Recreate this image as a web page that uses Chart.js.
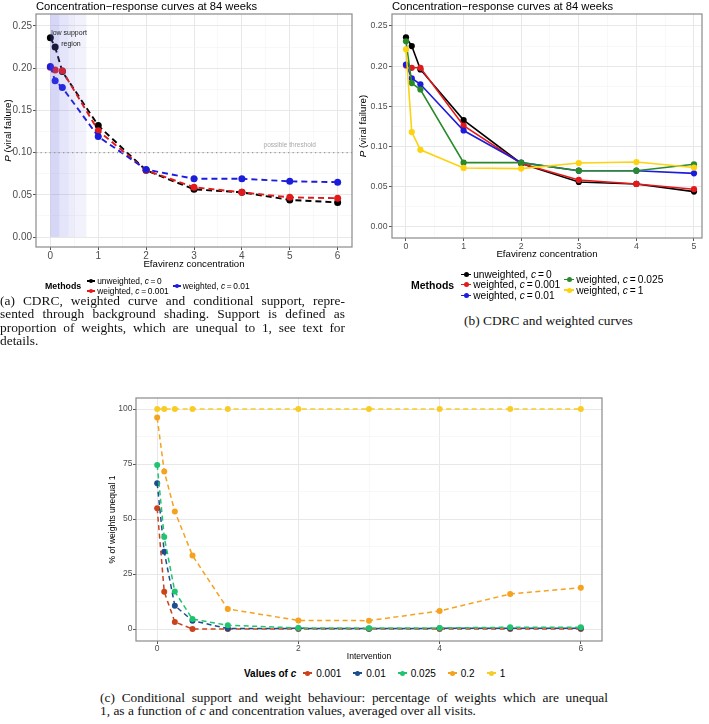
<!DOCTYPE html>
<html>
<head>
<meta charset="utf-8">
<title>Concentration-response curves</title>
<script src="https://cdn.jsdelivr.net/npm/chart.js@4.4.1/dist/chart.umd.min.js"></script>
<style>
  html, body { margin: 0; padding: 0; background: #fff; }
  #page { position: relative; width: 709px; height: 724px; overflow: hidden; font-family: 'Liberation Sans', Arial, sans-serif; color: #000; }
  canvas { position: absolute; }
  .title { position: absolute; font-size: 11.2px; line-height: 12px; white-space: nowrap; }
  .legend { position: absolute; display: flex; align-items: center; white-space: nowrap; }
  .legend .head { font-weight: bold; }
  .legend .col { display: flex; flex-direction: column; }
  .legend .item { display: flex; align-items: center; }
  .key { position: relative; display: inline-block; flex: none; }
  .key::before { content: ''; position: absolute; left: 0; right: 0; top: 50%; height: 1.4px; margin-top: -0.7px; background: var(--c); }
  .key::after { content: ''; position: absolute; left: 50%; top: 50%; width: var(--d); height: var(--d); margin-left: calc(var(--d) / -2); margin-top: calc(var(--d) / -2); border-radius: 50%; background: var(--c); }
  .caption { position: absolute; font-family: 'Liberation Serif', 'DejaVu Serif', serif; font-size: 13.4px; line-height: 13.4px; color: #111; white-space: nowrap; }
  .caption .just { text-align: justify; text-align-last: justify; }
</style>
</head>
<body>
<div id="page">
  <canvas id="chartA" width="356" height="278" style="left:0;top:0"></canvas>
  <canvas id="chartB" width="354" height="263" style="left:355px;top:0"></canvas>
  <canvas id="chartC" width="501" height="280" style="left:105px;top:385px"></canvas>

  <div class="title" style="left:36px;top:0">Concentration&minus;response curves at 84 weeks</div>
  <div class="title" style="left:392px;top:0">Concentration&minus;response curves at 84 weeks</div>

  <div class="legend" id="legendA" style="left:45px;top:276px"></div>
  <div class="legend" id="legendB" style="left:411px;top:269px"></div>
  <div class="legend" id="legendC" style="left:244px;top:667px"></div>

  <div class="caption" style="left:0;top:294px;width:345px">
    <div class="just">(a) CDRC, weighted curve and conditional support, repre-</div>
    <div class="just">sented through background shading. Support is defined as</div>
    <div class="just">proportion of weights, which are unequal to 1, see text for</div>
    <div>details.</div>
  </div>
  <div class="caption" style="left:464px;top:314px">(b) CDRC and weighted curves</div>
  <div class="caption" style="left:100px;top:691px;width:508px">
    <div class="just">(c) Conditional support and weight behaviour: percentage of weights which are unequal</div>
    <div>1, as a function of <i>c</i> and concentration values, averaged over all visits.</div>
  </div>
</div>

<script>
'use strict';

const FONT = "'Liberation Sans', Arial, sans-serif";

// ---- panel (a): CDRC + weighted curves, with support shading
const concA = [0, 0.1, 0.25, 1, 2, 3, 4, 5, 6];
const unweightedA = [0.236, 0.225, 0.196, 0.132, 0.079, 0.0565, 0.053, 0.044, 0.041];
const weighted001A = [0.201, 0.198, 0.197, 0.126, 0.079, 0.059, 0.053, 0.047, 0.046];
const weighted01A = [0.202, 0.185, 0.177, 0.119, 0.080, 0.069, 0.069, 0.066, 0.065];
const supportEdges = [0, 0.19, 0.38, 0.5, 0.75];
const supportShade = [0.26, 0.17, 0.12, 0.08]; // alpha of each band
const threshold = 0.10;
const xTicksA = [0, 1, 2, 3, 4, 5, 6];
const yTicksA = [0, 0.05, 0.10, 0.15, 0.20, 0.25];

// ---- panel (b): CDRC and weighted curves
const concB = [0, 0.1, 0.25, 1, 2, 3, 4, 5];
const unweightedB = [0.236, 0.225, 0.196, 0.133, 0.079, 0.056, 0.0535, 0.044];
const weighted001B = [0.201, 0.198, 0.198, 0.126, 0.079, 0.0585, 0.0535, 0.047];
const weighted01B = [0.202, 0.185, 0.1775, 0.120, 0.080, 0.070, 0.070, 0.0667];
const weighted025B = [0.231, 0.179, 0.171, 0.080, 0.080, 0.070, 0.070, 0.078];
const weighted1B = [0.221, 0.118, 0.096, 0.0734, 0.0726, 0.0796, 0.0808, 0.074];
const xTicksB = [0, 1, 2, 3, 4, 5];
const yTicksB = [0, 0.05, 0.10, 0.15, 0.20, 0.25];

// ---- panel (c): % of weights unequal 1
const concC = [0, 0.1, 0.25, 0.5, 1, 2, 3, 4, 5, 6];
const pct001 = [54.9, 16.9, 3.2, 0, 0, 0, 0, 0, 0, 0];
const pct01 = [66.3, 35.1, 10.6, 3.8, 0.2, 0.3, 0.2, 0.3, 0.3, 0.4];
const pct025 = [74.6, 41.8, 17.0, 4.5, 1.7, 0.5, 0.4, 0.5, 0.8, 0.8];
const pct02 = [96.1, 71.6, 53.4, 33.4, 9.1, 3.9, 3.8, 8.2, 15.9, 18.8];
const pct1 = [100, 100, 100, 100, 100, 100, 100, 100, 100, 100];
const xTicksC = [0, 2, 4, 6];
const yTicksC = [0, 25, 50, 75, 100];

const methodNames = ['unweighted', 'weighted', 'weighted', 'weighted', 'weighted'];
const methodC = ['0', '0.001', '0.01', '0.025', '1'];
const cValuesC = ['0.001', '0.01', '0.025', '0.2', '1'];

const notesA = [
    { text: 'low support', x: 0.39, y: 0.2413 },
    { text: 'region', x: 0.43, y: 0.2290 },
    { text: 'possible threshold', x: 5.0, y: 0.1086, grey: true }
];

const colA = ['#000000', '#e31a1c', '#1c1cdc'];
const colB = ['#000000', '#e31a1c', '#1c1cdc', '#2a8a2a', '#fdd20e'];
const colC = ['#c9441d', '#1b4e8c', '#21c370', '#f5a21e', '#f8cc27'];

function toPoints(xs, ys) {
    return xs.map((x, i) => ({ x: x, y: ys[i] }));
}

function withMinor(majors) {
    const t = majors.map(v => ({ value: v }));
    for (let i = 0; i < majors.length - 1; i++) {
        t.push({ value: (majors[i] + majors[i + 1]) / 2, minor: true });
    }
    return t.sort((a, b) => a.value - b.value);
}

function axis(o) {
    return {
        type: 'linear',
        min: o.min,
        max: o.max,
        afterBuildTicks: s => { s.ticks = withMinor(o.ticks); },
        afterFit: s => { if (o.horizontal) s.height = o.size; else s.width = o.size; },
        border: { display: false },
        grid: {
            color: c => (c.tick && c.tick.minor) ? '#f4f4f4' : '#e8e8e8',
            lineWidth: c => (c.tick && c.tick.minor) ? 0.6 : 1,
            tickColor: c => (c.tick && c.tick.minor) ? 'rgba(0,0,0,0)' : '#555',
            tickLength: 3
        },
        ticks: {
            autoSkip: false,
            maxRotation: 0,
            padding: o.tickPad,
            color: '#4d4d4d',
            font: { family: FONT, size: o.tickSize },
            callback: (v, i, t) => t[i].minor ? '' : o.fmt(v)
        },
        title: {
            display: !!o.title,
            text: o.title || '',
            color: '#000',
            font: { family: FONT, size: o.titleSize },
            padding: o.titlePad || { top: 0, bottom: 0 }
        }
    };
}

const panelBox = {
    id: 'panelBox',
    afterDraw(chart) {
        const { ctx, chartArea: a } = chart;
        ctx.save();
        ctx.strokeStyle = '#8a8a8a';
        ctx.lineWidth = 1.2;
        ctx.strokeRect(a.left, a.top, a.right - a.left, a.bottom - a.top);
        ctx.restore();
    }
};

const italicYTitle = {
    id: 'italicYTitle',
    afterDraw(chart, args, opts) {
        if (!opts.x) return;
        const { ctx, chartArea: a } = chart;
        const rest = ' (viral failure)';
        ctx.save();
        ctx.translate(opts.x, (a.top + a.bottom) / 2);
        ctx.rotate(-Math.PI / 2);
        ctx.fillStyle = '#000';
        ctx.textBaseline = 'middle';
        ctx.font = 'italic ' + opts.size + 'px ' + FONT;
        const w1 = ctx.measureText('P').width;
        ctx.font = opts.size + 'px ' + FONT;
        const w2 = ctx.measureText(rest).width;
        const x0 = -(w1 + w2) / 2;
        ctx.font = 'italic ' + opts.size + 'px ' + FONT;
        ctx.fillText('P', x0, 0);
        ctx.font = opts.size + 'px ' + FONT;
        ctx.fillText(rest, x0 + w1, 0);
        ctx.restore();
    }
};

// shading, threshold line and notes of panel (a)
const supportLayer = {
    id: 'supportLayer',
    afterDatasetsDraw(chart) {
        const { ctx, chartArea: a, scales: { x, y } } = chart;
        ctx.save();
        ctx.beginPath();
        ctx.rect(a.left, a.top, a.right - a.left, a.bottom - a.top);
        ctx.clip();
        const y0 = y.getPixelForValue(0);
        for (let i = 0; i < supportShade.length; i++) {
            const x0 = x.getPixelForValue(supportEdges[i]);
            const x1 = x.getPixelForValue(supportEdges[i + 1]);
            ctx.fillStyle = 'rgba(95, 95, 225, ' + supportShade[i] + ')';
            ctx.fillRect(x0, a.top, x1 - x0, y0 - a.top);
        }
        const ty = y.getPixelForValue(threshold);
        ctx.strokeStyle = '#9a9a9a';
        ctx.lineWidth = 1.3;
        ctx.setLineDash([1.3, 3.2]);
        ctx.beginPath();
        ctx.moveTo(a.left, ty);
        ctx.lineTo(a.right, ty);
        ctx.stroke();
        ctx.setLineDash([]);
        ctx.textAlign = 'center';
        ctx.textBaseline = 'middle';
        notesA.forEach(n => {
            ctx.font = (n.grey ? 6.5 : 7) + 'px ' + FONT;
            ctx.fillStyle = n.grey ? '#a8a8a8' : '#222';
            ctx.fillText(n.text, x.getPixelForValue(n.x), y.getPixelForValue(n.y));
        });
        ctx.restore();
    }
};

function series(xs, ys, color, opts, order) {
    return {
        data: toPoints(xs, ys),
        borderColor: color,
        backgroundColor: color,
        pointBackgroundColor: color,
        pointBorderWidth: 0,
        pointRadius: opts.r,
        borderWidth: opts.w,
        borderDash: opts.dash,
        tension: 0,
        order: order
    };
}

function baseOptions(pad, xAxis, yAxis, plugins) {
    return {
        responsive: false,
        animation: false,
        events: [],
        layout: { padding: pad },
        scales: { x: xAxis, y: yAxis },
        plugins: Object.assign({ legend: { display: false }, tooltip: { enabled: false } }, plugins)
    };
}

// ---- chart (a)
const styleA = { r: 3.5, w: 1.9, dash: [6, 4] };
const seriesA = [unweightedA, weighted001A, weighted01A];
new Chart(document.getElementById('chartA'), {
    type: 'line',
    data: { datasets: seriesA.map((ys, i) => series(concA, ys, colA[i], styleA, seriesA.length - i)) },
    options: baseOptions(
        { left: 0, right: 4, top: 14, bottom: 0 },
        axis({ horizontal: true, min: -0.3, max: 6.3, ticks: xTicksA, size: 31, tickSize: 10, tickPad: 0,
               fmt: v => String(v), title: 'Efavirenz concentration', titleSize: 9.7, titlePad: { top: 0, bottom: 8 } }),
        axis({ min: -0.0118, max: 0.2642, ticks: yTicksA, size: 36, tickSize: 10, tickPad: 1, fmt: v => v.toFixed(2) }),
        { italicYTitle: { x: 8, size: 9.7 } }
    ),
    plugins: [supportLayer, panelBox, italicYTitle]
});

// ---- chart (b)
const styleB = { r: 3.1, w: 1.6, dash: [] };
const seriesB = [unweightedB, weighted001B, weighted01B, weighted025B, weighted1B];
new Chart(document.getElementById('chartB'), {
    type: 'line',
    data: { datasets: seriesB.map((ys, i) => series(concB, ys, colB[i], styleB, seriesB.length - i)) },
    options: baseOptions(
        { left: 0, right: 7, top: 14, bottom: 0 },
        axis({ horizontal: true, min: -0.243, max: 5.139, ticks: xTicksB, size: 25, tickSize: 8.7, tickPad: 0,
               fmt: v => String(v), title: 'Efavirenz concentration', titleSize: 9.7, titlePad: { top: 0, bottom: 3 } }),
        axis({ min: -0.0137, max: 0.2649, ticks: yTicksB, size: 37, tickSize: 8.7, tickPad: 1.5, fmt: v => v.toFixed(2) }),
        { italicYTitle: { x: 8, size: 9.7 } }
    ),
    plugins: [panelBox, italicYTitle]
});

// ---- chart (c)
const styleC = { r: 3, w: 1.5, dash: [5, 3.5] };
const seriesC = [pct001, pct01, pct025, pct02, pct1];
new Chart(document.getElementById('chartC'), {
    type: 'line',
    data: { datasets: seriesC.map((ys, i) => series(concC, ys, colC[i], styleC, seriesC.length - i)) },
    options: baseOptions(
        { left: 0, right: 3, top: 13, bottom: 0 },
        axis({ horizontal: true, min: -0.3, max: 6.3, ticks: xTicksC, size: 24, tickSize: 8.5, tickPad: 0,
               fmt: v => String(v), title: 'Intervention', titleSize: 8.5, titlePad: { top: 0, bottom: 3 } }),
        axis({ min: -5.45, max: 105, ticks: yTicksC, size: 31, tickSize: 8.5, tickPad: 0.5, fmt: v => String(v),
               title: '% of weights unequal 1', titleSize: 8.5, titlePad: { top: 3, bottom: 0 } }),
        {}
    ),
    plugins: [panelBox]
});

// ---- legends (HTML, built from the same arrays)
function keyHtml(color, w, d) {
    return '<span class="key" style="--c:' + color + ';--d:' + d + 'px;width:' + w + 'px;height:' + (d + 2) + 'px"></span>';
}

function methodLegend(id, n, colors, nrow, s) {
    const el = document.getElementById(id);
    let html = '<span class="head" style="font-size:' + s.head + 'px;margin-right:' + s.gap + 'px">Methods</span>';
    for (let c = 0; c * nrow < n; c++) {
        html += '<div class="col" style="margin-right:' + s.colGap + 'px">';
        for (let r = 0; r < nrow && c * nrow + r < n; r++) {
            const i = c * nrow + r;
            html += '<div class="item" style="height:' + s.row + 'px;font-size:' + s.text + 'px">' +
                keyHtml(colors[i], s.keyW, s.dot) +
                '<span style="margin-left:' + s.keyGap + 'px">' + methodNames[i] + ', <i>c</i>&#8201;=&#8201;' + methodC[i] + '</span></div>';
        }
        html += '</div>';
    }
    el.innerHTML = html;
}

// panel (a) shows the first three methods only
methodLegend('legendA', colA.length, colA, 2, { head: 8.8, text: 8.4, row: 10, gap: 6, colGap: 4, keyW: 8, dot: 4.5, keyGap: 2 });
methodLegend('legendB', methodNames.length, colB, 3, { head: 10.5, text: 10.2, row: 10.5, gap: 7, colGap: 4, keyW: 10, dot: 5, keyGap: 2 });

(function () {
    const el = document.getElementById('legendC');
    let html = '<span class="head" style="font-size:10px;margin-right:7px">Values of <i>c</i></span>';
    cValuesC.forEach((v, i) => {
        html += '<div class="item" style="font-size:10px;height:12px;margin-right:12px">' + keyHtml(colC[i], 9, 5) +
            '<span style="margin-left:4px">' + v + '</span></div>';
    });
    el.innerHTML = html;
})();
</script>
</body>
</html>
